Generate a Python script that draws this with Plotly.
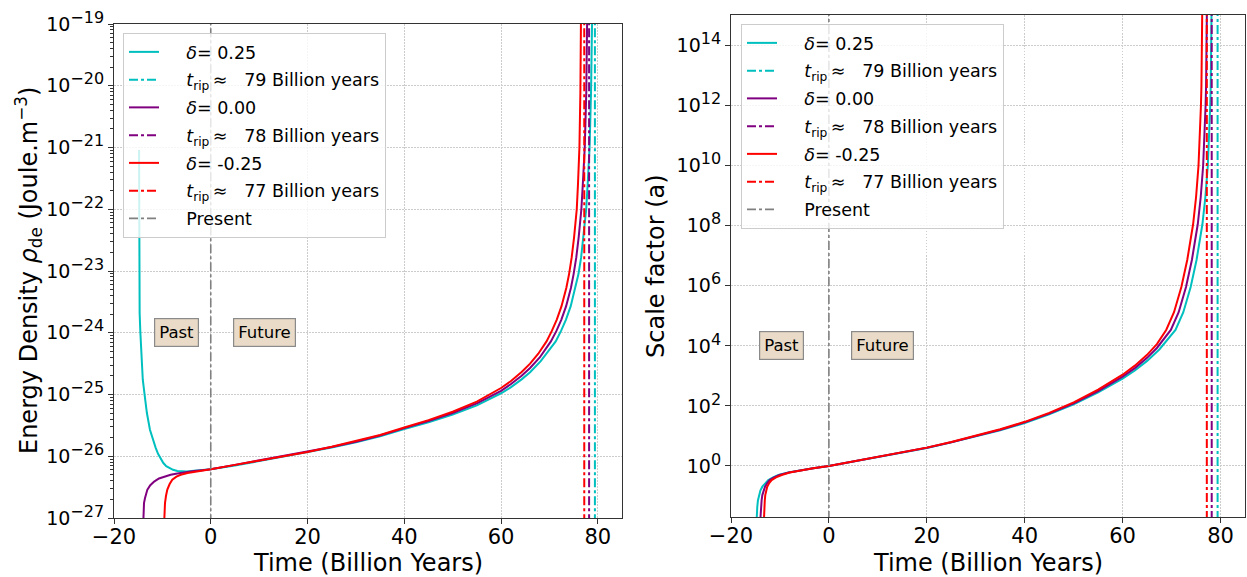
import plotly.graph_objects as go

# ---- Dark-energy density rho_de (log10, Joule m^-3) versus time (Gyr) ----
t_rho_p25 = [-14.82, -14.78, -14.7, -14.55, -14.37, -14.05, -13.6, -13.2, -12.57, -12.0, -11.4, -10.9, -10.4,
             -9.8, -9.2, -8.6, -7.8, -6.9, -5.0, -3.45, -1.7,
             0, 5, 10, 15, 20, 25, 30, 35, 40, 45, 50, 55, 60, 62, 64.25, 66, 68.2, 71.3, 72.4, 73.4, 74.4,
             75.4, 76.0, 76.55, 77.05, 77.6, 77.9, 78.3, 78.6, 78.8, 78.9]
lrho_p25 = [-21.04, -23.14, -23.68, -24.0, -24.22, -24.76, -25.05, -25.30, -25.57, -25.72, -25.86, -25.96, -26.04,
            -26.11, -26.16, -26.19, -26.22, -26.24, -26.245, -26.235, -26.225,
            -26.21, -26.15, -26.08, -26.01, -25.94, -25.86, -25.775, -25.675, -25.56, -25.45, -25.325, -25.175,
            -24.98, -24.885, -24.755, -24.64, -24.46, -24.14, -23.97, -23.79, -23.57, -23.27, -23.05, -22.78,
            -22.45, -22.0, -21.6, -21.0, -20.1, -19.45, -18.5]

t_rho_00 = [-14.05, -13.95, -13.9, -13.8, -13.6, -13.4, -13.1, -12.5, -11.7, -10.7, -9.7, -8.3, -6.9, -5.2,
            -3.45, -1.7,
            0, 5, 10, 15, 20, 25, 30, 35, 40, 45, 50, 55, 60, 62, 64.25, 66, 68.0, 70.3, 71.45, 72.45, 73.45,
            74.45, 75.0, 75.55, 76.05, 76.6, 76.9, 77.3, 77.62, 77.78, 77.86]
lrho_00 = [-27.3, -27.0, -26.88, -26.76, -26.68, -26.60, -26.54, -26.47, -26.41, -26.36, -26.33, -26.30, -26.28,
           -26.255, -26.24, -26.225,
           -26.21, -26.14, -26.07, -26.00, -25.93, -25.85, -25.765, -25.665, -25.545, -25.43, -25.30, -25.145,
           -24.94, -24.835, -24.695, -24.57, -24.40, -24.14, -23.97, -23.79, -23.57, -23.27, -23.05, -22.78,
           -22.45, -22.0, -21.6, -21.0, -20.1, -19.45, -18.5]

t_rho_m25 = [-9.75, -9.67, -9.6, -9.46, -9.25, -8.98, -8.5, -7.95, -7.1, -6.2, -4.8, -3.45, -1.7,
             0, 5, 10, 15, 20, 25, 30, 35, 40, 45, 50, 55, 60, 62, 64.25, 66, 67.7, 69.4, 70.5, 71.5, 72.5,
             73.5, 74.06, 74.6, 75.1, 75.65, 75.9, 76.2, 76.4, 76.5, 76.56]
lrho_m25 = [-27.3, -27.0, -26.88, -26.76, -26.64, -26.54, -26.45, -26.38, -26.33, -26.30, -26.27, -26.25, -26.23,
            -26.21, -26.14, -26.07, -26.00, -25.93, -25.845, -25.755, -25.655, -25.535, -25.415, -25.28, -25.115,
            -24.895, -24.785, -24.635, -24.50, -24.34, -24.14, -23.97, -23.79, -23.57, -23.27, -23.05, -22.78,
            -22.45, -22.0, -21.6, -21.0, -20.1, -19.45, -18.5]

# ---- Scale factor a (log10) versus time (Gyr) ----
t_a_p25 = [-14.8, -14.76, -14.7, -14.63, -14.5, -14.29, -14.0, -13.6, -13.0, -12.38, -11.4, -10.3, -8.3, -6.3,
           -3.2, 0, 5, 10, 15, 20, 25, 30, 35, 40, 45, 50, 55, 60, 62.5, 65.0, 67.5, 70.8, 72.4, 73.9, 75.1,
           76.3, 76.9, 77.4, 77.7, 77.9, 78.0, 78.1, 78.17, 78.22]
la_p25 = [-1.9, -1.69, -1.5, -1.36, -1.15, -0.97, -0.82, -0.69, -0.57, -0.47, -0.38, -0.30, -0.22, -0.16,
          -0.08, 0.0, 0.15, 0.30, 0.45, 0.60, 0.785, 0.98, 1.19, 1.43, 1.72, 2.05, 2.45, 2.91, 3.18, 3.50, 3.88,
          4.53, 5.12, 5.96, 6.86, 8.05, 8.95, 10.0, 11.0, 12.0, 12.65, 14.0, 15.03, 16.0]

t_a_00 = [-14.05, -14.0, -13.93, -13.85, -13.75, -13.6, -13.35, -13.05, -12.6, -12.1, -11.2, -10.1, -8.2, -6.3,
          -3.2, 0, 5, 10, 15, 20, 25, 30, 35, 40, 45, 50, 55, 60, 62.5, 65.0, 67.0, 69.85, 71.45, 72.95, 74.15,
          75.35, 75.95, 76.45, 76.75, 76.95, 77.05, 77.15, 77.22, 77.27]
la_00 = [-1.9, -1.69, -1.5, -1.36, -1.15, -0.97, -0.82, -0.69, -0.57, -0.47, -0.38, -0.30, -0.22, -0.16,
         -0.08, 0.0, 0.15, 0.30, 0.45, 0.605, 0.79, 0.99, 1.205, 1.45, 1.745, 2.085, 2.495, 2.975, 3.26, 3.60, 3.93,
         4.53, 5.12, 5.96, 6.86, 8.05, 8.95, 10.0, 11.0, 12.0, 12.65, 14.0, 15.03, 16.0]

t_a_m25 = [-13.3, -13.27, -13.22, -13.17, -13.1, -13.0, -12.85, -12.6, -12.2, -11.7, -10.8, -9.65, -8.0, -6.26,
           -3.2, 0, 5, 10, 15, 20, 25, 30, 35, 40, 45, 50, 55, 60, 62.5, 65.0, 67.0, 68.9, 70.5, 72.0, 73.2,
           74.4, 75.0, 75.5, 75.8, 76.0, 76.1, 76.2, 76.27, 76.32]
la_m25 = [-1.9, -1.69, -1.5, -1.36, -1.15, -0.97, -0.82, -0.69, -0.57, -0.47, -0.38, -0.30, -0.22, -0.16,
          -0.08, 0.0, 0.15, 0.30, 0.45, 0.61, 0.795, 1.0, 1.22, 1.47, 1.77, 2.12, 2.54, 3.04, 3.34, 3.70, 4.06,
          4.53, 5.12, 5.96, 6.86, 8.05, 8.95, 10.0, 11.0, 12.0, 12.65, 14.0, 15.03, 16.0]

# Big-rip times (Gyr), delta labels and the present epoch
deltas = ["0.25", "0.00", "-0.25"]
t_rip = [79.4, 78.2, 77.2]
rip_labels = ["79", "78", "77"]
t_present = 0.0

# tick exponents on both y axes
rho_tick_exp = [-27, -26, -25, -24, -23, -22, -21, -20, -19]
a_tick_exp = [0, 2, 4, 6, 8, 10, 12, 14]

colors = ["#00BFBF", "#800080", "#FF0000"]
FONT = "DejaVu Sans"
NB = "\u00a0"
PAD = NB * 4

rho_curves = [(t_rho_p25, lrho_p25), (t_rho_00, lrho_00), (t_rho_m25, lrho_m25)]
a_curves = [(t_a_p25, la_p25), (t_a_00, la_00), (t_a_m25, la_m25)]

# vertical extents for the marker lines (beyond each y-range)
rho_span = [1e-30, 1e-16]
a_span = [1e-3, 1e17]

fig = go.Figure()


def add_panel(curves, span, xa, ya, legend_name):
    k = 0
    for (t, lv), d, tr, lab, c in zip(curves, deltas, t_rip, rip_labels, colors):
        fig.add_trace(go.Scatter(
            x=t, y=[10 ** v for v in lv], mode="lines", xaxis=xa, yaxis=ya,
            line=dict(color=c, width=2), name=f"{PAD}<i>δ</i>= {d}",
            legend=legend_name, legendgroup=f"{legend_name}{k}"))
        k += 1
        fig.add_trace(go.Scatter(
            x=[tr, tr], y=span, mode="lines", xaxis=xa, yaxis=ya,
            line=dict(color=c, width=2, dash="dashdot"),
            name=f"{PAD}<i>t</i><sub>rip</sub>\u2009≈{NB * 2} {lab} Billion years",
            legend=legend_name, legendgroup=f"{legend_name}{k}"))
        k += 1
    fig.add_trace(go.Scatter(
        x=[t_present, t_present], y=span, mode="lines", xaxis=xa, yaxis=ya,
        line=dict(color="#808080", width=1.6, dash="dashdot"), name=f"{PAD}Present",
        legend=legend_name, legendgroup=f"{legend_name}{k}"))


add_panel(rho_curves, rho_span, "x", "y", "legend")
add_panel(a_curves, a_span, "x2", "y2", "legend2")


def power_labels(exps):
    out = []
    for e in exps:
        s = str(e).replace("-", "−")
        out.append(f"10<sup><span style='font-size:16px'>{s}</span></sup>")
    return out


W, H = 1247, 577
axis_common = dict(
    showline=True, linecolor="#333333", linewidth=1.2, mirror=True,
    ticks="outside", ticklen=5, tickwidth=1.2, tickcolor="#333333",
    showgrid=True, gridcolor="#cccccc", griddash="1.5px,1.5px", gridwidth=0.8,
    zeroline=False, automargin=False, tickfont=dict(family=FONT, size=21, color="black"),
)

xcommon = dict(axis_common, range=[-20, 85], tick0=0, dtick=20, ticklabelstandoff=-5)
ycommon = dict(axis_common, type="log", tickmode="array",
               tickfont=dict(family=FONT, size=19, color="black"))

legend_common = dict(xanchor="left", yanchor="top", bgcolor="rgba(255,255,255,0.8)",
                     bordercolor="#cccccc", borderwidth=1, traceorder="grouped", tracegroupgap=2,
                     font=dict(family=FONT, size=17.5, color="black"))

fig.update_layout(
    width=W, height=H,
    margin=dict(l=0, r=0, t=0, b=0, autoexpand=False),
    paper_bgcolor="white", plot_bgcolor="white",
    font=dict(family=FONT, color="black"),
    xaxis=dict(xcommon, domain=[114 / W, 622 / W], anchor="y"),
    yaxis=dict(ycommon, domain=[1 - 518 / H, 1 - 24 / H], anchor="x", range=[-27, -19],
               tickvals=[10.0 ** e for e in rho_tick_exp], ticktext=power_labels(rho_tick_exp),
               minor=dict(ticks="outside", ticklen=3, tickcolor="#333333", showgrid=False,
                          tickvals=[m * 10.0 ** e for e in rho_tick_exp[:-1] for m in range(2, 10)])),
    xaxis2=dict(xcommon, domain=[731 / W, 1245 / W], anchor="y2"),
    yaxis2=dict(ycommon, domain=[1 - 517 / H, 1 - 15 / H], anchor="x2", range=[-1.7, 15.02],
                tickvals=[10.0 ** e for e in a_tick_exp], ticktext=power_labels(a_tick_exp)),
    legend=dict(legend_common, x=123 / W, y=1 - 33 / H),
    legend2=dict(legend_common, x=741 / W, y=1 - 24 / H),
)

box = dict(bgcolor="rgb(233,219,199)", bordercolor="#8a8a8a", borderwidth=1.2, borderpad=4,
           font=dict(family=FONT, size=16.5, color="black"), showarrow=False)
annotations = [
    dict(box, text="Past", x=-7.05, y=-24.0, xref="x", yref="y"),
    dict(box, text="Future", x=11.2, y=-24.0, xref="x", yref="y"),
    dict(box, text="Past", x=-9.65, y=4.0, xref="x2", yref="y2"),
    dict(box, text="Future", x=11.0, y=4.0, xref="x2", yref="y2"),
]
title_font = dict(family=FONT, size=24, color="black")
annotations += [
    dict(text="Time (Billion Years)", x=368 / W, y=1 - 563 / H, xref="paper", yref="paper",
         showarrow=False, font=title_font, xanchor="center", yanchor="middle"),
    dict(text="Time (Billion Years)", x=988 / W, y=1 - 563 / H, xref="paper", yref="paper",
         showarrow=False, font=title_font, xanchor="center", yanchor="middle"),
    dict(text="Energy Density <i>ρ</i><sub>de</sub> (Joule.m<sup>−3</sup>)", x=28 / W, y=1 - 271 / H,
         xref="paper", yref="paper", showarrow=False, font=title_font, textangle=-90,
         xanchor="center", yanchor="middle"),
    dict(text="Scale factor (a)", x=656 / W, y=1 - 266 / H, xref="paper", yref="paper",
         showarrow=False, font=title_font, textangle=-90, xanchor="center", yanchor="middle"),
]
fig.update_layout(annotations=annotations)

fig.write_html("out.html")
